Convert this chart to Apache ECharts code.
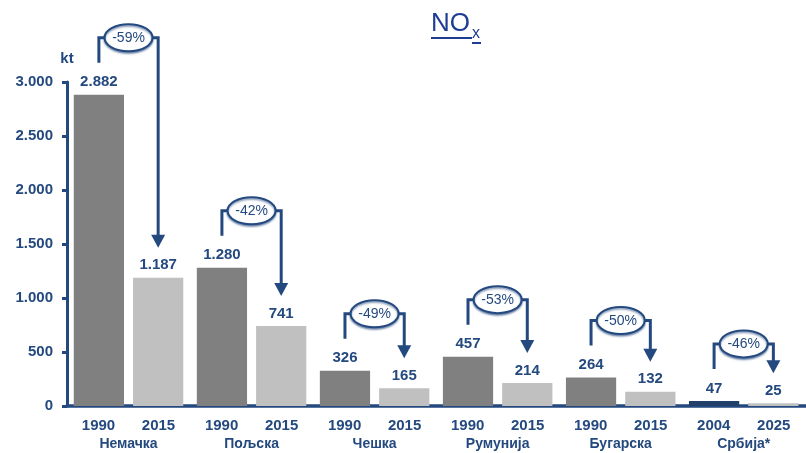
<!DOCTYPE html>
<html><head><meta charset="utf-8">
<script src="https://cdn.jsdelivr.net/npm/echarts@6/dist/echarts.min.js"></script>
<style>html,body{margin:0;padding:0;background:#fff}#c{width:806px;height:453px}</style>
</head><body><div id="c"></div>
<script>
const countries = ['Немачка','Пољска','Чешка','Румунија','Бугарска','Србија*'];
const startYears = ['1990','1990','1990','1990','1990','2004'];
const endYears = ['2015','2015','2015','2015','2015','2025'];
const startValues = [2882,1280,326,457,264,47];
const endValues = [1187,741,165,214,132,25];
const changeLabels = ['-59%','-42%','-49%','-53%','-50%','-46%'];
const yMin = 0, yMax = 3000, yStep = 500;

const NAVY = '#24497F';
const TITLE = '#1D3C94';
const FONT = '"Liberation Sans", Arial, sans-serif';
const CAT_GAP = 0.11, BAR_GAP = 0.18;
const fmt = v => String(v).replace(/\B(?=(\d{3})+(?!\d))/g, '.');

const chart = echarts.init(document.getElementById('c'));
const labelStyle = {show:true, position:'top', distance:5, formatter:p=>fmt(p.value),
  color:NAVY, fontWeight:'bold', fontSize:15, fontFamily:FONT};

chart.setOption({
  animation:false,
  textStyle:{fontFamily:FONT},
  grid:{left:67, top:82, bottom:47, right:-8, containLabel:false},
  graphic:[
    {type:'text', left:431, top:11, style:{text:'NO', font:'26px '+FONT, fill:TITLE}},
    {type:'text', left:472, top:26, style:{text:'x', font:'16px '+FONT, fill:TITLE}},
    {type:'rect', left:431, top:37, shape:{width:41,height:2}, style:{fill:TITLE}},
    {type:'rect', left:472, top:42, shape:{width:9,height:2}, style:{fill:TITLE}}
  ],
  xAxis:{type:'category', data:countries,
    axisLine:{show:true, lineStyle:{color:NAVY, width:3.5}},
    axisTick:{show:false},
    axisLabel:{interval:0, margin:10,
      formatter:(val, idx)=>`{y|${startYears[idx]}}{y|${endYears[idx]}}\n{c|${val}}`,
      rich:{
        y:{width:60, align:'center', fontSize:15, fontWeight:'bold', color:NAVY, lineHeight:19, fontFamily:FONT},
        c:{align:'center', fontSize:14, fontWeight:'bold', color:NAVY, lineHeight:18, fontFamily:FONT}
      }}
  },
  yAxis:{type:'value', min:yMin, max:yMax, interval:yStep,
    name:'kt', nameLocation:'end', nameGap:16,
    nameTextStyle:{color:NAVY, fontWeight:'bold', fontSize:15, align:'center', fontFamily:FONT},
    axisLine:{show:true, lineStyle:{color:NAVY, width:3}},
    axisTick:{show:true, length:5, lineStyle:{color:NAVY, width:3}},
    splitLine:{show:false},
    axisLabel:{formatter:v=>fmt(v), color:NAVY, fontWeight:'bold', fontSize:15, margin:14, fontFamily:FONT}
  },
  series:[
    {type:'bar', data:startValues, barGap:(BAR_GAP*100)+'%', barCategoryGap:(CAT_GAP*100)+'%',
      itemStyle:{color:p=> p.dataIndex===countries.length-1 ? '#22406A' : '#808080'},
      label:labelStyle, z:2},
    {type:'bar', data:endValues,
      itemStyle:{color:'#C0C0C0'}, label:labelStyle, z:2},
    {type:'custom', z:5, clip:false, silent:true,
      data:startValues.map((v,i)=>[i, v, endValues[i]]),
      encode:{x:0, y:[1,2]},
      renderItem:(params, api)=>{
        const i = api.value(0);
        const c = api.coord([i, 0]);
        const band = api.size([1,0])[0];
        const bw = band*(1-CAT_GAP)/(2+BAR_GAP);
        const off = bw*(1+BAR_GAP)/2;
        const x1 = c[0]-off, x2 = c[0]+off, xm = c[0];
        const y1 = api.coord([i, api.value(1)])[1];
        const y2 = api.coord([i, api.value(2)])[1];
        const yTop = y1-57, yStart = y1-32, yTip = y2-30;
        const hh = 13, hw = 7;
        return {type:'group', children:[
          {type:'polyline', shape:{points:[[x1,yStart],[x1,yTop],[x2,yTop],[x2,yTip-hh+1]]},
            style:{stroke:NAVY, lineWidth:3, fill:null}},
          {type:'polygon', shape:{points:[[x2-hw,yTip-hh],[x2+hw,yTip-hh],[x2,yTip]]}, style:{fill:NAVY}},
          {type:'ellipse', shape:{cx:xm, cy:yTop, rx:24, ry:13.5},
            style:{fill:'#fff', stroke:NAVY, lineWidth:2, shadowBlur:2, shadowOffsetY:1.5, shadowColor:'rgba(36,73,127,0.6)'}},
          {type:'text', x:xm, y:yTop+0.5, style:{text:changeLabels[params.dataIndex], fill:NAVY,
            font:'14px '+FONT, align:'center', verticalAlign:'middle', textAlign:'center', textVerticalAlign:'middle'}}
        ]};
      }
    }
  ]
});
</script></body></html>
